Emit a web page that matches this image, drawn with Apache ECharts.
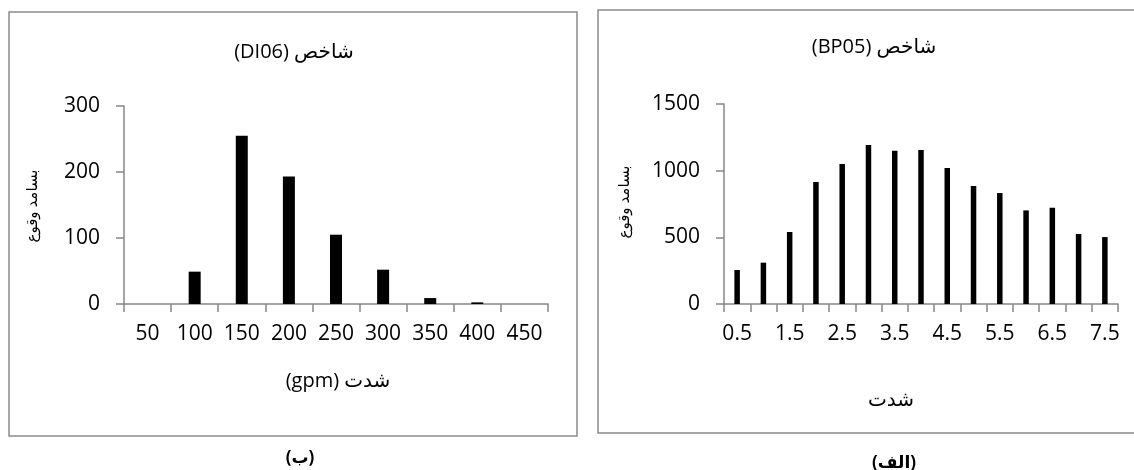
<!DOCTYPE html>
<html>
<head>
<meta charset="utf-8">
<script src="https://cdn.jsdelivr.net/npm/echarts@6/dist/echarts.min.js"></script>
<style>
html,body{margin:0;padding:0;background:#fff;}
#c{width:1134px;height:470px;}
</style>
</head>
<body>
<div id="c"></div>
<script>
// ---- data ----
const leftCategories = ['50','100','150','200','250','300','350','400','450'];
const leftValues = [0, 49, 255, 193, 105, 52, 9, 2.5, 0];
const rightCategories = ['0.5','1','1.5','2','2.5','3','3.5','4','4.5','5','5.5','6','6.5','7','7.5'];
const rightValues = [255, 310, 540, 915, 1050, 1192, 1150, 1155, 1020, 885, 832, 702, 722, 525, 502];

// texts (written in visual order for a left-to-right canvas)
const leftTitle = '(DI06) شاخص';
const rightTitle = '(BP05) شاخص';
const yName = 'بسامد وقوع';
const leftXName = '(gpm) شدت';
const rightXName = 'شدت';
const leftCaption = '(ب)';
const rightCaption = '(الف)';

const FONT = "'Open Sans', 'DejaVu Sans', sans-serif";
const AXIS_COLOR = '#878787';

const chart = echarts.init(document.getElementById('c'), null, {renderer: 'canvas'});

function xAxisCfg(gridIndex, data, labelInterval) {
  return {
    type: 'category', gridIndex: gridIndex, data: data,
    axisLine: {lineStyle: {color: AXIS_COLOR, width: 1.5}},
    axisTick: {show: true, inside: false, length: 8, interval: 0, lineStyle: {color: AXIS_COLOR, width: 1.5}},
    axisLabel: {interval: labelInterval, margin: 20, fontSize: 21, fontFamily: FONT, color: '#000'},
    splitLine: {show: false}
  };
}
function yAxisCfg(gridIndex, max, interval) {
  return {
    type: 'value', gridIndex: gridIndex, min: 0, max: max, interval: interval,
    axisLine: {show: true, lineStyle: {color: AXIS_COLOR, width: 1.5}},
    axisTick: {show: true, length: 8, lineStyle: {color: AXIS_COLOR, width: 1.5}},
    axisLabel: {margin: 24, fontSize: 21, fontFamily: FONT, color: '#000', formatter: function (v) { return String(v); }},
    splitLine: {show: false}
  };
}
function txt(x, y, text, size, opts) {
  opts = opts || {};
  const el = {
    type: 'text', x: x, y: y,
    style: {text: text, fontSize: size, fontFamily: FONT, fill: '#000', align: 'center', verticalAlign: 'middle', fontWeight: opts.bold ? 'bold' : 'normal'}
  };
  if (opts.rotation) el.rotation = opts.rotation;
  return el;
}

chart.setOption({
  animation: false,
  backgroundColor: '#fff',
  grid: [
    {left: 124, top: 106, width: 424, height: 198},
    {left: 724, top: 104, width: 394, height: 200}
  ],
  xAxis: [xAxisCfg(0, leftCategories, 0), xAxisCfg(1, rightCategories, 1)],
  yAxis: [yAxisCfg(0, 300, 100), yAxisCfg(1, 1500, 500)],
  series: [
    {type: 'bar', xAxisIndex: 0, yAxisIndex: 0, data: leftValues, barWidth: 12, itemStyle: {color: '#000'}},
    {type: 'bar', xAxisIndex: 1, yAxisIndex: 1, data: rightValues, barWidth: 5.5, itemStyle: {color: '#000'}}
  ],
  graphic: [
    {type: 'rect', shape: {x: 9, y: 12, width: 568, height: 424}, style: {fill: 'none', stroke: '#8a8a8a', lineWidth: 1.5}, silent: true},
    {type: 'rect', shape: {x: 598, y: 10, width: 560, height: 423}, style: {fill: 'none', stroke: '#8a8a8a', lineWidth: 1.5}, silent: true},
    txt(294, 52, leftTitle, 20),
    txt(874, 47, rightTitle, 20),
    txt(33, 206, yName, 15, {rotation: Math.PI / 2}),
    txt(625, 202, yName, 15, {rotation: Math.PI / 2}),
    txt(338, 381, leftXName, 20),
    txt(891, 400, rightXName, 20),
    txt(300, 458, leftCaption, 17, {bold: true}),
    txt(894, 463, rightCaption, 17, {bold: true})
  ]
});
</script>
</body>
</html>
